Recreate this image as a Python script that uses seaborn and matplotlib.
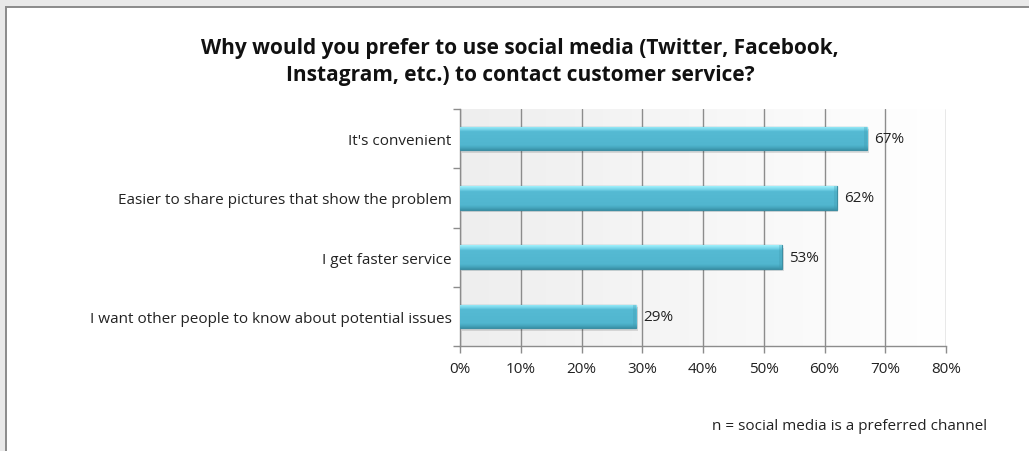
import numpy as np
import pandas as pd
import matplotlib
matplotlib.use("Agg")
import matplotlib.pyplot as plt
from matplotlib.patches import Rectangle
import seaborn as sns

reasons = [
    "It's convenient",
    "Easier to share pictures that show the problem",
    "I get faster service",
    "I want other people to know about potential issues",
]
shares = [67, 62, 53, 29]
x_ticks = [0, 10, 20, 30, 40, 50, 60, 70, 80]
x_tick_labels = [f"{t}%" for t in x_ticks]

title = ("Why would you prefer to use social media (Twitter, Facebook,\n"
         "Instagram, etc.) to contact customer service?")
note = "n = social media is a preferred channel"

df = pd.DataFrame({"reason": reasons, "share": shares})

sns.set_theme(style="white")
plt.rcParams["font.family"] = ["Open Sans", "DejaVu Sans"]

fig = plt.figure(figsize=(10.29, 4.52), dpi=100)
fig.patch.set_facecolor("#e9e9e9")

# white card with a grey border on the top and left
W, H = 1029, 452
card = Rectangle((6 / W, -0.01), 1.1, 1 - 8 / H + 0.01, transform=fig.transFigure,
                 facecolor="white", edgecolor="#8a8a8a", linewidth=1.4, zorder=-5)
fig.patches.append(card)

ax = fig.add_axes([460 / W, 1 - 347 / H, 486 / W, 237 / H])
ax.set_facecolor("none")

# soft grey-to-white background gradient in the plotting area
grad = np.linspace(0, 1, 256).reshape(1, -1)
ax.imshow(grad, extent=[0, 1, 0, 1], transform=ax.transAxes, aspect="auto",
          cmap=matplotlib.colors.LinearSegmentedColormap.from_list("bg", ["#eeeeee", "#ffffff"]),
          zorder=0)

sns.barplot(data=df, x="share", y="reason", orient="h", color="#52b8d1",
            width=0.4, ax=ax, zorder=3, edgecolor="#3d8ea3", linewidth=0.9,
            saturation=1)

# bevelled shading on each bar: bright top rim, flat body, darker lower rim
shade = matplotlib.colors.LinearSegmentedColormap.from_list(
    "bar", [(0.0, "#9ff0fb"), (0.14, "#74d3e8"), (0.22, "#55bad3"),
            (0.8, "#51b6cf"), (0.9, "#47a8c0"), (1.0, "#3a93a8")])
vgrad = np.linspace(0, 1, 64).reshape(-1, 1)
bars = list(ax.patches)
for p in bars:
    x0, y0 = p.get_x(), p.get_y()
    w, h = p.get_width(), p.get_height()
    im = ax.imshow(vgrad, extent=[x0, x0 + w, y0 + h, y0], aspect="auto",
                   cmap=shade, zorder=3.5, origin="upper")
    im.set_clip_path(p)
    # bevelled right end
    ax.add_patch(Rectangle((x0 + w - 0.5, y0), 0.5, h, facecolor="#3f98ad",
                           alpha=0.3, edgecolor="none", zorder=3.6))
    # drop shadow
    ax.add_patch(Rectangle((x0 + 0.3, y0 + 0.04), w, h, facecolor="#000000",
                           alpha=0.12, edgecolor="none", zorder=2.5))

for i, val in enumerate(shares):
    ax.text(val + 1.2, i, f"{val}%", va="center", ha="left", fontsize=11,
            color="#222222", zorder=5)

ax.set_xlim(0, 80)
ax.set_ylim(len(reasons) - 0.5, -0.5)
ax.set_xticks(x_ticks)
ax.set_xticklabels(x_tick_labels, fontsize=11, color="#222222")
ax.set_yticks(range(len(reasons)))
ax.set_yticklabels(reasons, fontsize=11, color="#222222")
ax.set_yticks(np.arange(-0.5, len(reasons), 1), minor=True)
ax.set_xlabel("")
ax.set_ylabel("")

ax.grid(axis="x", color="#8c8c8c", linewidth=1.0, zorder=1)
ax.set_axisbelow(True)
for s in ["top", "right"]:
    ax.spines[s].set_visible(False)
for s in ["left", "bottom"]:
    ax.spines[s].set_color("#8c8c8c")
    ax.spines[s].set_linewidth(1.0)

ax.tick_params(axis="y", which="major", left=True, length=0, pad=6)
ax.tick_params(axis="y", which="minor", left=True, length=5, width=1,
               color="#8c8c8c", direction="out")
ax.tick_params(axis="x", which="major", bottom=True, length=5, width=1,
               color="#8c8c8c", direction="out", pad=6)

fig.text(520 / W, 1 - 62 / H, title, ha="center", va="center", fontsize=15,
         fontweight="bold", color="#111111", linespacing=1.35)
fig.text(987 / W, 1 - 427 / H, note, ha="right", va="center", fontsize=11,
         color="#222222")

fig.savefig("out.png", dpi=100, facecolor=fig.get_facecolor())
